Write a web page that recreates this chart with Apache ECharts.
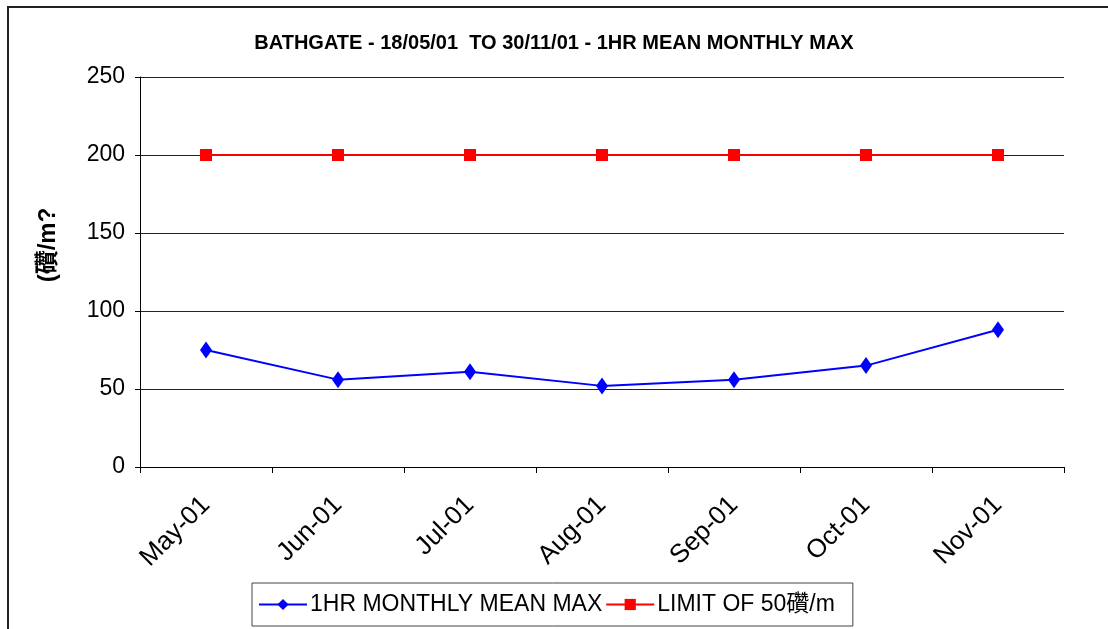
<!DOCTYPE html>
<html>
<head>
<meta charset="utf-8">
<title>BATHGATE 1HR MEAN MONTHLY MAX</title>
<script src="https://cdn.jsdelivr.net/npm/echarts@6/dist/echarts.min.js"></script>
<style>
    html, body {
        margin: 0;
        padding: 0;
        background: #fff;
    }
    #main {
        width: 1108px;
        height: 629px;
    }
</style>
</head>
<body>
<div id="main"></div>
<script>
    // 数据
    var months = ['May-01', 'Jun-01', 'Jul-01', 'Aug-01', 'Sep-01', 'Oct-01', 'Nov-01'];
    var meanMax = [75, 56, 61, 52, 56, 65, 88];
    var limit = [200, 200, 200, 200, 200, 200, 200];
    var yTicks = [0, 50, 100, 150, 200, 250];

    var font = 'Arial, "Liberation Sans", "Noto Sans CJK SC", sans-serif';

    var myChart = echarts.init(document.getElementById('main'));

    var option = {
        backgroundColor: '#fff',
        animation: false,
        //标题
        title: {
            text: 'BATHGATE - 18/05/01  TO 30/11/01 - 1HR MEAN MONTHLY MAX',
            left: 'center',
            top: 28,
            textStyle: {
                fontFamily: font,
                fontSize: 20,
                fontWeight: 'bold',
                color: '#000'
            }
        },
        //外框
        graphic: [{
            type: 'rect',
            shape: {x: 8, y: 7, width: 1200, height: 700},
            style: {fill: 'none', stroke: '#222', lineWidth: 2},
            silent: true
        }],
        grid: {
            left: 140,
            right: 44,
            top: 77,
            bottom: 162
        },
        //图例
        legend: {
            data: ['1HR MONTHLY MEAN MAX', 'LIMIT OF 50礸/m'],
            left: 252,
            top: 583,
            padding: [10, 18, 10, 6],
            itemGap: 3,
            itemWidth: 48,
            itemHeight: 14,
            borderColor: '#444',
            borderWidth: 1,
            textStyle: {
                fontFamily: font,
                fontSize: 23,
                color: '#000',
                padding: [0, 0, 0, -2]
            }
        },
        //x轴
        xAxis: {
            type: 'category',
            data: months,
            boundaryGap: true,
            axisLine: {lineStyle: {color: '#000', width: 1}},
            axisTick: {
                show: true,
                interval: 0,
                length: 6,
                lineStyle: {color: '#000'}
            },
            axisLabel: {
                interval: 0,
                rotate: 45,
                margin: 34,
                fontFamily: font,
                fontSize: 26,
                color: '#000'
            }
        },
        //y轴
        yAxis: {
            type: 'value',
            min: yTicks[0],
            max: yTicks[yTicks.length - 1],
            interval: 50,
            name: '(礸/m?',
            nameLocation: 'middle',
            nameGap: 80,
            nameRotate: 90,
            nameTextStyle: {
                fontFamily: font,
                fontSize: 24,
                fontWeight: 'bold',
                color: '#000',
                padding: [0, 0, 0, 54]
            },
            axisLine: {show: true, lineStyle: {color: '#000', width: 1}},
            axisTick: {show: true, length: 5, lineStyle: {color: '#000'}},
            axisLabel: {
                margin: 15,
                fontFamily: font,
                fontSize: 23,
                color: '#000'
            },
            splitLine: {show: true, lineStyle: {color: '#222', width: 1}}
        },
        //数据
        series: [{
            name: '1HR MONTHLY MEAN MAX',
            type: 'line',
            data: meanMax,
            symbol: 'diamond',
            symbolSize: [12, 17],
            color: '#0000ff',
            lineStyle: {color: '#0000ff', width: 2},
            itemStyle: {color: '#0000ff'}
        }, {
            name: 'LIMIT OF 50礸/m',
            type: 'line',
            data: limit,
            symbol: 'rect',
            symbolSize: 12,
            color: '#ff0000',
            lineStyle: {color: '#ff0000', width: 2},
            itemStyle: {color: '#ff0000'}
        }]
    };
    myChart.setOption(option);
</script>
</body>
</html>
